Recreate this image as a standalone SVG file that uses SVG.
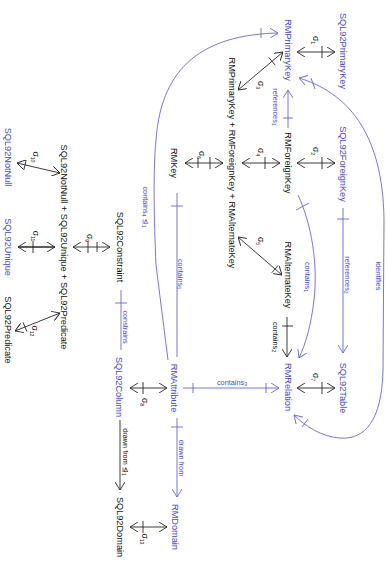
<svg xmlns="http://www.w3.org/2000/svg" width="387" height="562" viewBox="0 0 387 562">
<style>
text { font-family: "Liberation Sans", Arial, "DejaVu Sans", sans-serif; text-anchor: middle; }
.nd { font-size: 9.2px; }
.lb { font-size: 7.3px; }
.sg { font-size: 8.5px; }
.sub { font-size: 5.2px; }
.b { fill: #4646de; }
.k { fill: #111; }
.eb { fill: none; stroke: #6565ec; stroke-width: 0.9; }
.ek { fill: none; stroke: #262626; stroke-width: 0.9; }
</style>
<defs>
  <marker id="hk" viewBox="0 0 8 10" refX="8" refY="5" markerWidth="8" markerHeight="10" markerUnits="userSpaceOnUse" orient="auto-start-reverse">
    <path d="M0,0 L8,5 L0,10" fill="none" stroke="#262626" stroke-width="0.9"/>
  </marker>
  <marker id="hb" viewBox="0 0 8 10" refX="8" refY="5" markerWidth="8" markerHeight="10" markerUnits="userSpaceOnUse" orient="auto-start-reverse">
    <path d="M0,0 L8,5 L0,10" fill="none" stroke="#6565ec" stroke-width="0.9"/>
  </marker>
</defs>

<!-- connectors -->
<g id="connectors">
  <!-- sigma mappings (double-headed) -->
  <g class="ek">
    <line x1="297" y1="52" x2="335" y2="52" marker-start="url(#hk)" marker-end="url(#hk)"/>
    <line x1="322" y1="46" x2="322" y2="58"/>
    <line x1="297" y1="163" x2="335" y2="163" marker-start="url(#hk)" marker-end="url(#hk)"/>
    <line x1="322" y1="157" x2="322" y2="169"/>
    <line x1="242" y1="163" x2="280" y2="163" marker-start="url(#hk)" marker-end="url(#hk)"/>
    <line x1="265" y1="157" x2="265" y2="169"/>
    <line x1="185" y1="163" x2="223" y2="163" marker-start="url(#hk)" marker-end="url(#hk)"/>
    <line x1="198" y1="158" x2="198" y2="168"/>
    <line x1="210" y1="157" x2="210" y2="169"/>
    <line x1="238" y1="90" x2="283" y2="52" marker-start="url(#hk)" marker-end="url(#hk)"/>
    <line x1="268.8" y1="57.5" x2="275.2" y2="65.1"/>
    <line x1="238" y1="237" x2="282" y2="275" marker-start="url(#hk)" marker-end="url(#hk)"/>
    <line x1="278.3" y1="265.2" x2="271.7" y2="272.8"/>
    <line x1="297" y1="388" x2="335" y2="388" marker-start="url(#hk)" marker-end="url(#hk)"/>
    <line x1="322" y1="382" x2="322" y2="394"/>
    <line x1="130" y1="388" x2="167" y2="388" marker-start="url(#hk)" marker-end="url(#hk)"/>
    <line x1="143" y1="382" x2="143" y2="394"/>
    <line x1="130" y1="527" x2="167" y2="527" marker-start="url(#hk)" marker-end="url(#hk)"/>
    <line x1="143" y1="521" x2="143" y2="533"/>
    <line x1="73" y1="247" x2="110" y2="247" marker-start="url(#hk)" marker-end="url(#hk)"/>
    <line x1="88" y1="241" x2="88" y2="253"/>
    <line x1="97" y1="242" x2="97" y2="252"/>
    <line x1="18" y1="247" x2="55" y2="247" stroke-width="1.3" marker-start="url(#hk)" marker-end="url(#hk)"/>
    <line x1="33" y1="241" x2="33" y2="253"/>
    <line x1="17" y1="163" x2="60" y2="173" marker-start="url(#hk)" marker-end="url(#hk)"/>
    <line x1="26.1" y1="160" x2="23.9" y2="169.8"/>
    <line x1="60" y1="313" x2="15" y2="331" marker-start="url(#hk)" marker-end="url(#hk)"/>
    <line x1="26.9" y1="331.6" x2="23.1" y2="322.4"/>
    <!-- contains2 -->
    <line x1="287" y1="317" x2="287" y2="357" marker-end="url(#hk)"/>
    <line x1="282" y1="326" x2="293" y2="326"/>
    <!-- drawn from (column to domain) -->
    <line x1="120" y1="420" x2="120" y2="490" marker-end="url(#hk)"/>
  </g>
  <g class="eb">
    <!-- references1 -->
    <line x1="288" y1="128" x2="288" y2="90" marker-end="url(#hb)"/>
    <line x1="283" y1="118" x2="293" y2="118"/>
    <!-- references2 -->
    <line x1="343" y1="208" x2="343" y2="353" marker-end="url(#hb)"/>
    <line x1="337" y1="219" x2="349" y2="219"/>
    <!-- identifies -->
    <path d="M299,78 C345,92 383,130 384,220 L383,370 C382,420 365,440 340,438 C322,437 305,426 294,415" marker-start="url(#hb)" marker-end="url(#hb)"/>
    <line x1="311" y1="78" x2="315" y2="89"/>
    <line x1="308" y1="419" x2="302" y2="427"/>
    <!-- contains1 -->
    <path d="M298,195 C312,225 318,265 314,300 C311,325 306,343 299,358" marker-end="url(#hb)"/>
    <line x1="296" y1="210" x2="309" y2="203"/>
    <!-- contains3 -->
    <line x1="183" y1="388" x2="279" y2="388" marker-end="url(#hb)"/>
    <line x1="193" y1="383" x2="193" y2="393"/>
    <line x1="266" y1="383" x2="266" y2="393"/>
    <!-- contains4 -->
    <path d="M168,360 L156,265 C154,220 153,170 156,140 C160,85 185,35 278,33" marker-end="url(#hb)"/>
    <line x1="261" y1="28" x2="261" y2="38"/>
    <!-- contains5 -->
    <line x1="177" y1="193" x2="177" y2="357"/>
    <line x1="171" y1="206" x2="183" y2="206"/>
    <!-- constrains -->
    <line x1="121" y1="290" x2="121" y2="350"/>
    <line x1="115" y1="303" x2="127" y2="303"/>
    <!-- drawn from (attribute to domain) -->
    <line x1="177" y1="418" x2="177" y2="497" marker-end="url(#hb)"/>
    <line x1="171" y1="427" x2="183" y2="427"/>
  </g>

  <!-- connector labels -->
  <g class="k">
    <text class="sg" transform="translate(313,40) rotate(90)">σ<tspan class="sub" dy="1.6">1</tspan></text>
    <text class="sg" transform="translate(313,151) rotate(90)">σ<tspan class="sub" dy="1.6">2</tspan></text>
    <text class="sg" transform="translate(258,85) rotate(90)">σ<tspan class="sub" dy="1.6">3</tspan></text>
    <text class="sg" transform="translate(258,152) rotate(90)">σ<tspan class="sub" dy="1.6">4</tspan></text>
    <text class="sg" transform="translate(258,241) rotate(90)">σ<tspan class="sub" dy="1.6">5</tspan></text>
    <text class="sg" transform="translate(199,155) rotate(90)">σ<tspan class="sub" dy="1.6">6</tspan></text>
    <text class="sg" transform="translate(313,377) rotate(90)">σ<tspan class="sub" dy="1.6">7</tspan></text>
    <text class="sg" transform="translate(142,402) rotate(90)">σ<tspan class="sub" dy="1.6">8</tspan></text>
    <text class="sg" transform="translate(87,238) rotate(90)">σ<tspan class="sub" dy="1.6">9</tspan></text>
    <text class="sg" transform="translate(33,157) rotate(90)">σ<tspan class="sub" dy="1.6">10</tspan></text>
    <text class="sg" transform="translate(33,236) rotate(90)">σ<tspan class="sub" dy="1.6">11</tspan></text>
    <text class="sg" transform="translate(32,331) rotate(90)">σ<tspan class="sub" dy="1.6">12</tspan></text>
    <text class="sg" transform="translate(142,539) rotate(90)">σ<tspan class="sub" dy="1.6">13</tspan></text>
    <text class="lb" transform="translate(273,337) rotate(90)">contains<tspan class="sub" dy="1.5">2</tspan></text>
    <text class="lb" transform="translate(123,452) rotate(90)">drawn from <tspan>⊴</tspan><tspan class="sub" dy="1.5">1</tspan></text>
  </g>
  <g class="b">
    <text class="lb" transform="translate(273,107) rotate(90)">references<tspan class="sub" dy="1.5">1</tspan></text>
    <text class="lb" transform="translate(345,275) rotate(90)">references<tspan class="sub" dy="1.5">2</tspan></text>
    <text class="lb" transform="translate(376,276) rotate(90)">identifies</text>
    <text class="lb" transform="translate(305,277) rotate(90)">contains<tspan class="sub" dy="1.5">1</tspan></text>
    <text class="lb" x="232" y="384.5">contains<tspan class="sub" dy="1.5">3</tspan></text>
    <text class="lb" transform="translate(143,207) rotate(90)">contains<tspan class="sub" dy="1.5">4</tspan><tspan dy="-1.5"> ⊴</tspan><tspan class="sub" dy="1.5">1</tspan></text>
    <text class="lb" transform="translate(178,274) rotate(90)">contains<tspan class="sub" dy="1.5">5</tspan></text>
    <text class="lb" transform="translate(123,327) rotate(90)">constrains</text>
    <text class="lb" transform="translate(179,458) rotate(90)">drawn from</text>
  </g>
</g>

<!-- nodes -->
<g id="sql92PrimaryKey"><text class="nd b" transform="translate(340,51) rotate(90)">SQL92PrimaryKey</text></g>
<g id="rmPrimaryKey"><text class="nd b" transform="translate(285,50) rotate(90)">RMPrimaryKey</text></g>
<g id="rmKeyUnion"><text class="nd k" transform="translate(229,163) rotate(90)">RMPrimaryKey + RMForeignKey + RMAlternateKey</text></g>
<g id="sql92ForeignKey"><text class="nd b" transform="translate(340,164) rotate(90)">SQL92ForeignKey</text></g>
<g id="rmForeignKey"><text class="nd k" transform="translate(285,163) rotate(90)">RMForeignKey</text></g>
<g id="rmKey"><text class="nd k" transform="translate(171,163) rotate(90)">RMKey</text></g>
<g id="rmAlternateKey"><text class="nd k" transform="translate(285,275) rotate(90)">RMAlternateKey</text></g>
<g id="sql92Table"><text class="nd b" transform="translate(340,388) rotate(90)">SQL92Table</text></g>
<g id="rmRelation"><text class="nd b" transform="translate(285,387) rotate(90)">RMRelation</text></g>
<g id="rmAttribute"><text class="nd b" transform="translate(171,388) rotate(90)">RMAttribute</text></g>
<g id="sql92Column"><text class="nd b" transform="translate(116,387) rotate(90)">SQL92Column</text></g>
<g id="sql92Constraint"><text class="nd k" transform="translate(117,247) rotate(90)">SQL92Constraint</text></g>
<g id="sql92ConstraintUnion"><text class="nd k" transform="translate(61,247) rotate(90)">SQL92NotNull + SQL92Unique + SQL92Predicate</text></g>
<g id="sql92NotNull"><text class="nd b" transform="translate(5,157) rotate(90)">SQL92NotNull</text></g>
<g id="sql92Unique"><text class="nd b" transform="translate(5,247) rotate(90)">SQL92Unique</text></g>
<g id="sql92Predicate"><text class="nd k" transform="translate(5,330) rotate(90)">SQL92Predicate</text></g>
<g id="sql92Domain"><text class="nd k" transform="translate(117,527) rotate(90)">SQL92Domain</text></g>
<g id="rmDomain"><text class="nd b" transform="translate(172,527) rotate(90)">RMDomain</text></g>
</svg>
